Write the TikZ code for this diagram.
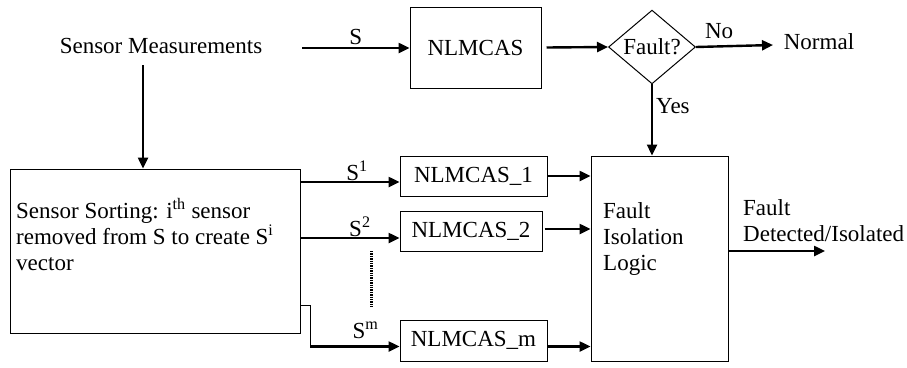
\documentclass[tikz,border=0pt]{standalone}
\usepackage{fontspec}
\setmainfont{Liberation Serif}
\usetikzlibrary{shapes.geometric,arrows.meta}
\begin{document}
\begin{tikzpicture}[x=1pt,y=-1pt,
  font=\fontsize{23}{26}\selectfont,
  box/.style={draw, line width=1pt, inner sep=0pt},
  arr/.style={line width=2.4pt, -{Triangle[length=11pt,width=10pt]}},
  lbl/.style={inner sep=0pt},
  thinline/.style={line width=1pt},
  dotline/.style={line width=3pt, dash pattern=on 1.4pt off 1pt}]
\useasboundingbox (0,0) rectangle (907,367);
% nodes
\node[lbl] (sm) at (161,46) {Sensor Measurements};
\node[box, minimum width=131pt, minimum height=81pt] (nl) at (475.5,47.5) {NLMCAS};
\node[draw, diamond, line width=1pt, inner sep=0pt, minimum width=87pt, minimum height=68pt] (dia) at (652,47) {Fault?};
\node[lbl] (normal) at (819,42) {Normal};
\node[box, minimum width=290pt, minimum height=164pt] (ss) at (155,251) {};
\node[lbl, anchor=north west, align=left] (sstext) at (16,198) {Sensor Sorting: i\textsuperscript{th} sensor\\removed from S to create S\textsuperscript{i}\\vector};
\node[box, minimum width=147pt, minimum height=40pt] (n1) at (473.5,176) {NLMCAS\_1};
\node[box, minimum width=142pt, minimum height=40pt] (n2) at (471,231) {NLMCAS\_2};
\node[box, minimum width=147pt, minimum height=41pt] (nm) at (473.5,340.5) {NLMCAS\_m};
\node[box, minimum width=137pt, minimum height=205pt] (fil) at (659.5,258.5) {};
\node[lbl, anchor=north west, align=left] (filtext) at (603,202) {Fault\\Isolation\\Logic};
\node[lbl, anchor=north west, align=left] (outtext) at (743,199) {Fault\\Detected/Isolated};
% coordinates
\coordinate (sstart) at (302,48);
\coordinate (noend) at (773,45);
\coordinate (smtop) at (143,65);
\coordinate (y1) at (0,182);
\coordinate (y2) at (0,238);
\coordinate (ym) at (0,305);
\coordinate (k1) at (310,305);
\coordinate (k2) at (310,346.5);
\coordinate (dtop) at (371,251);
\coordinate (dbot) at (371,307);
\coordinate (outend) at (825,251);
% connectors
\draw[arr] (sstart) -- (nl.west |- sstart) node[lbl, midway, above=2pt] {S};
\draw[arr] ([xshift=5pt]nl.east) -- (dia.west);
\draw[arr] (dia.east) -- (noend) node[lbl, pos=0.3, above=6pt] {No};
\draw[arr] (dia.south) -- (dia.south |- fil.north) node[lbl, pos=0.3, right=3pt] {Yes};
\draw[arr] (smtop) -- (smtop |- ss.north);
\draw[arr] (ss.east |- y1) -- (n1.west |- y1) node[lbl, pos=0.57, above=0pt] {S\textsuperscript{1}};
\draw[arr] (ss.east |- y2) -- (n2.west |- y2) node[lbl, pos=0.6, above=0pt] {S\textsuperscript{2}};
\draw[thinline] (ss.east |- ym) -- (k1) -- (k2);
\draw[arr] (k2) -- (nm.west |- k2) node[lbl, pos=0.62, above=7pt] {S\textsuperscript{m}};
\draw[dotline] (dtop) -- (dbot);
\draw[arr] (n1.east) -- (n1.east -| fil.west);
\draw[arr] ([xshift=2pt,yshift=2pt]n2.east) -- ([yshift=2pt]n2.east -| fil.west);
\draw[arr] ([yshift=-6pt]nm.east) -- ([yshift=-6pt]nm.east -| fil.west);
\draw[arr] (fil.east |- outend) -- (outend);
\end{tikzpicture}
\end{document}
